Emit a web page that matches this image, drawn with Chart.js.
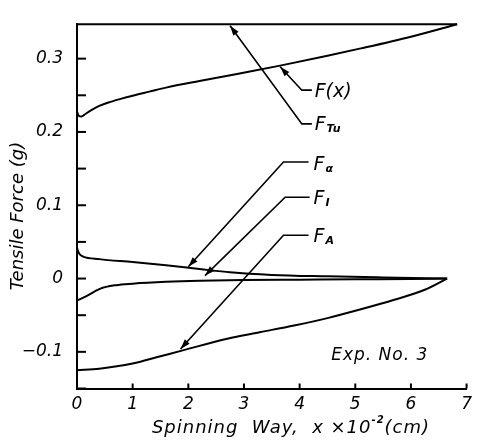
<!DOCTYPE html>
<html>
<head>
<meta charset="utf-8">
<script src="https://cdn.jsdelivr.net/npm/chart.js@4/dist/chart.umd.min.js"></script>
<style>
  html, body { margin: 0; padding: 0; background: #fff; }
  #wrap { width: 478px; height: 448px; }
</style>
</head>
<body>
<div id="wrap"><canvas id="c" width="478" height="448"></canvas></div>
<script>
// Spinning way x (×10^-2 cm) and tensile force (g) of each component
const fxWay        = [0, 0.03, 0.08, 0.15, 0.25, 0.4, 0.6, 0.8, 1.0, 1.3, 1.6, 2.2, 2.9, 3.65, 4.5, 5.1, 6.0, 6.83];
const fxForce      = [0.228, 0.222, 0.221, 0.2245, 0.2295, 0.2355, 0.241, 0.2455, 0.2495, 0.255, 0.2605, 0.2695, 0.2795, 0.2905, 0.304, 0.314, 0.330, 0.347];

const fTuWay       = [0, 6.83];
const fTuForce     = [0.347, 0.347];

const fAlphaWay    = [0, 0.02, 0.05, 0.11, 0.4, 1.0, 1.6, 2.2, 2.75, 3.5, 4.5, 5.5, 6.65];
const fAlphaForce  = [0.042, 0.037, 0.033, 0.030, 0.0265, 0.0225, 0.018, 0.013, 0.0085, 0.005, 0.003, 0.0015, 0.0];

const fIWay        = [0, 0.17, 0.41, 0.7, 1.0, 1.6, 2.2, 3.0, 4.0, 5.0, 6.0, 6.65];
const fIForce      = [-0.030, -0.024, -0.014, -0.009, -0.007, -0.0045, -0.003, -0.002, -0.0015, -0.001, -0.0007, 0.0];

const fAWay        = [0, 0.4, 1.0, 1.5, 1.9, 2.7, 3.3, 3.9, 4.5, 5.1, 5.7, 6.26, 6.65];
const fAForce      = [-0.125, -0.123, -0.116, -0.106, -0.098, -0.082, -0.073, -0.064, -0.054, -0.042, -0.029, -0.015, 0.0];

// Axis ticks
const wayTicks     = [0, 1, 2, 3, 4, 5, 6, 7];
const forceLabels  = { '-0.1': '\u22120.1', '0': '0', '0.1': '0.1', '0.2': '0.2', '0.3': '0.3' };

// Callout labels
const calloutNames = [
  { main: 'F(x)', sub: '' },
  { main: 'F', sub: 'Tu' },
  { main: 'F', sub: '\u03B1' },
  { main: 'F', sub: 'I' },
  { main: 'F', sub: 'A' }
];
const expLabel = 'Exp. No. 3';

const FONT = '"DejaVu Sans", sans-serif';

function pts(xs, ys) { return xs.map((x, i) => ({ x: x, y: ys[i] })); }

function series(xs, ys) {
  return {
    data: pts(xs, ys),
    borderColor: '#000',
    borderWidth: 2,
    pointRadius: 0,
    fill: false,
    cubicInterpolationMode: 'monotone',
    clip: false
  };
}

function setSpacing(ctx, v) { try { ctx.letterSpacing = v; } catch (e) {} }

// Leader lines in data coordinates: arrow tip, elbow, end of the horizontal run, text anchor
const calloutGeometry = [
  { tip: [3.65, 0.289], elbow: [4.04, 0.257], end: [4.22, 0.257], text: [4.27, 0.255] },
  { tip: [2.75, 0.345], elbow: [4.04, 0.211], end: [4.22, 0.211], text: [4.27, 0.209] },
  { tip: [2.00, 0.016], elbow: [3.71, 0.159], end: [4.16, 0.159], text: [4.25, 0.155] },
  { tip: [2.30, 0.004], elbow: [3.74, 0.111], end: [4.18, 0.111], text: [4.25, 0.108] },
  { tip: [1.86, -0.096], elbow: [3.71, 0.059], end: [4.16, 0.059], text: [4.25, 0.056] }
];

const decorPlugin = {
  id: 'decor',
  afterDraw(chart) {
    const ctx = chart.ctx;
    const xs = chart.scales.x, ys = chart.scales.y;
    const area = chart.chartArea;
    ctx.save();
    ctx.strokeStyle = '#000';
    ctx.fillStyle = '#000';
    ctx.lineWidth = 2;

    // inward tick marks
    ys.ticks.forEach(t => {
      const py = ys.getPixelForValue(t.value);
      ctx.beginPath();
      ctx.moveTo(area.left, py);
      ctx.lineTo(area.left + 9, py);
      ctx.stroke();
    });
    xs.ticks.forEach(t => {
      if (t.value === 0) return;
      const px = xs.getPixelForValue(t.value);
      ctx.beginPath();
      ctx.moveTo(px, area.bottom);
      ctx.lineTo(px, area.bottom - 5);
      ctx.stroke();
    });

    // callouts
    ctx.lineWidth = 1.6;
    calloutGeometry.forEach((g, i) => {
      const tx = xs.getPixelForValue(g.tip[0]), ty = ys.getPixelForValue(g.tip[1]);
      const ex = xs.getPixelForValue(g.elbow[0]), ey = ys.getPixelForValue(g.elbow[1]);
      const nx = xs.getPixelForValue(g.end[0]), ny = ys.getPixelForValue(g.end[1]);
      ctx.beginPath();
      ctx.moveTo(nx, ny);
      ctx.lineTo(ex, ey);
      ctx.lineTo(tx, ty);
      ctx.stroke();
      // arrow head
      const ang = Math.atan2(ty - ey, tx - ex);
      const L = 10, W = 3.2;
      ctx.beginPath();
      ctx.moveTo(tx, ty);
      ctx.lineTo(tx - L * Math.cos(ang) + W * Math.sin(ang), ty - L * Math.sin(ang) - W * Math.cos(ang));
      ctx.lineTo(tx - L * Math.cos(ang) - W * Math.sin(ang), ty - L * Math.sin(ang) + W * Math.cos(ang));
      ctx.closePath();
      ctx.fill();
      // text
      const lx = xs.getPixelForValue(g.text[0]), ly = ys.getPixelForValue(g.text[1]);
      const nm = calloutNames[i];
      ctx.textBaseline = 'middle';
      ctx.textAlign = 'left';
      ctx.font = 'italic 19px ' + FONT;
      ctx.fillText(nm.main, lx, ly);
      if (nm.sub) {
        const w = ctx.measureText(nm.main).width;
        ctx.font = 'italic bold 11px ' + FONT;
        ctx.fillText(nm.sub, lx + w + 1, ly + 4);
      }
    });

    // experiment tag
    ctx.font = 'italic 17px ' + FONT;
    ctx.textAlign = 'center';
    ctx.textBaseline = 'middle';
    setSpacing(ctx, '1px');
    ctx.fillText(expLabel, xs.getPixelForValue(5.44), ys.getPixelForValue(-0.105));
    setSpacing(ctx, '0px');

    // y axis title
    ctx.save();
    ctx.translate(18, 216);
    ctx.rotate(-Math.PI / 2);
    ctx.font = 'italic 18px ' + FONT;
    ctx.textAlign = 'center';
    ctx.textBaseline = 'middle';
    ctx.fillText('Tensile Force (g)', 0, 0);
    ctx.restore();

    // x axis title with superscript exponent
    const partA = 'Spinning  Way,  x \u00D710';
    const partB = '-2';
    const partC = '(cm)';
    ctx.textAlign = 'left';
    ctx.textBaseline = 'alphabetic';
    setSpacing(ctx, '1px');
    ctx.font = 'italic 18px ' + FONT;
    const wA = ctx.measureText(partA).width;
    const wC = ctx.measureText(partC).width;
    ctx.font = 'italic bold 10px ' + FONT;
    const wB = ctx.measureText(partB).width;
    const total = wA + wB + wC;
    const x0 = 291 - total / 2;
    const base = 433;
    ctx.font = 'italic 18px ' + FONT;
    ctx.fillText(partA, x0, base);
    ctx.font = 'italic bold 10px ' + FONT;
    ctx.fillText(partB, x0 + wA, base - 10);
    ctx.font = 'italic 18px ' + FONT;
    ctx.fillText(partC, x0 + wA + wB, base);
    setSpacing(ctx, '0px');
    ctx.restore();
  }
};

new Chart(document.getElementById('c'), {
  type: 'line',
  data: {
    datasets: [
      series(fxWay, fxForce),
      series(fTuWay, fTuForce),
      series(fAlphaWay, fAlphaForce),
      series(fIWay, fIForce),
      series(fAWay, fAForce)
    ]
  },
  options: {
    responsive: false,
    animation: false,
    devicePixelRatio: 1,
    layout: { padding: { left: 0, right: 6, top: 16, bottom: 0 } },
    plugins: { legend: { display: false }, tooltip: { enabled: false } },
    scales: {
      x: {
        type: 'linear',
        min: 0, max: 7,
        afterFit: s => { s.height = 59.5; },
        afterBuildTicks: s => { s.ticks = wayTicks.map(v => ({ value: v })); },
        grid: { display: false, drawTicks: false },
        border: { display: true, color: '#000', width: 2 },
        ticks: {
          padding: 6,
          color: '#000',
          font: { family: FONT, size: 17, style: 'italic' },
          callback: v => String(v)
        }
      },
      y: {
        type: 'linear',
        min: -0.15, max: 0.347,
        afterFit: s => { s.width = 77; },
        afterBuildTicks: s => {
          const out = [];
          for (let k = -3; k <= 6; k++) out.push({ value: Math.round(k * 5) / 100 });
          s.ticks = out;
        },
        grid: { display: false, drawTicks: false },
        border: { display: true, color: '#000', width: 2 },
        ticks: {
          padding: 14,
          color: '#000',
          font: { family: FONT, size: 17, style: 'italic' },
          callback: v => {
            const key = String(Math.round(v * 100) / 100);
            return forceLabels[key] !== undefined ? forceLabels[key] : '';
          }
        }
      }
    }
  },
  plugins: [decorPlugin]
});
</script>
</body>
</html>
